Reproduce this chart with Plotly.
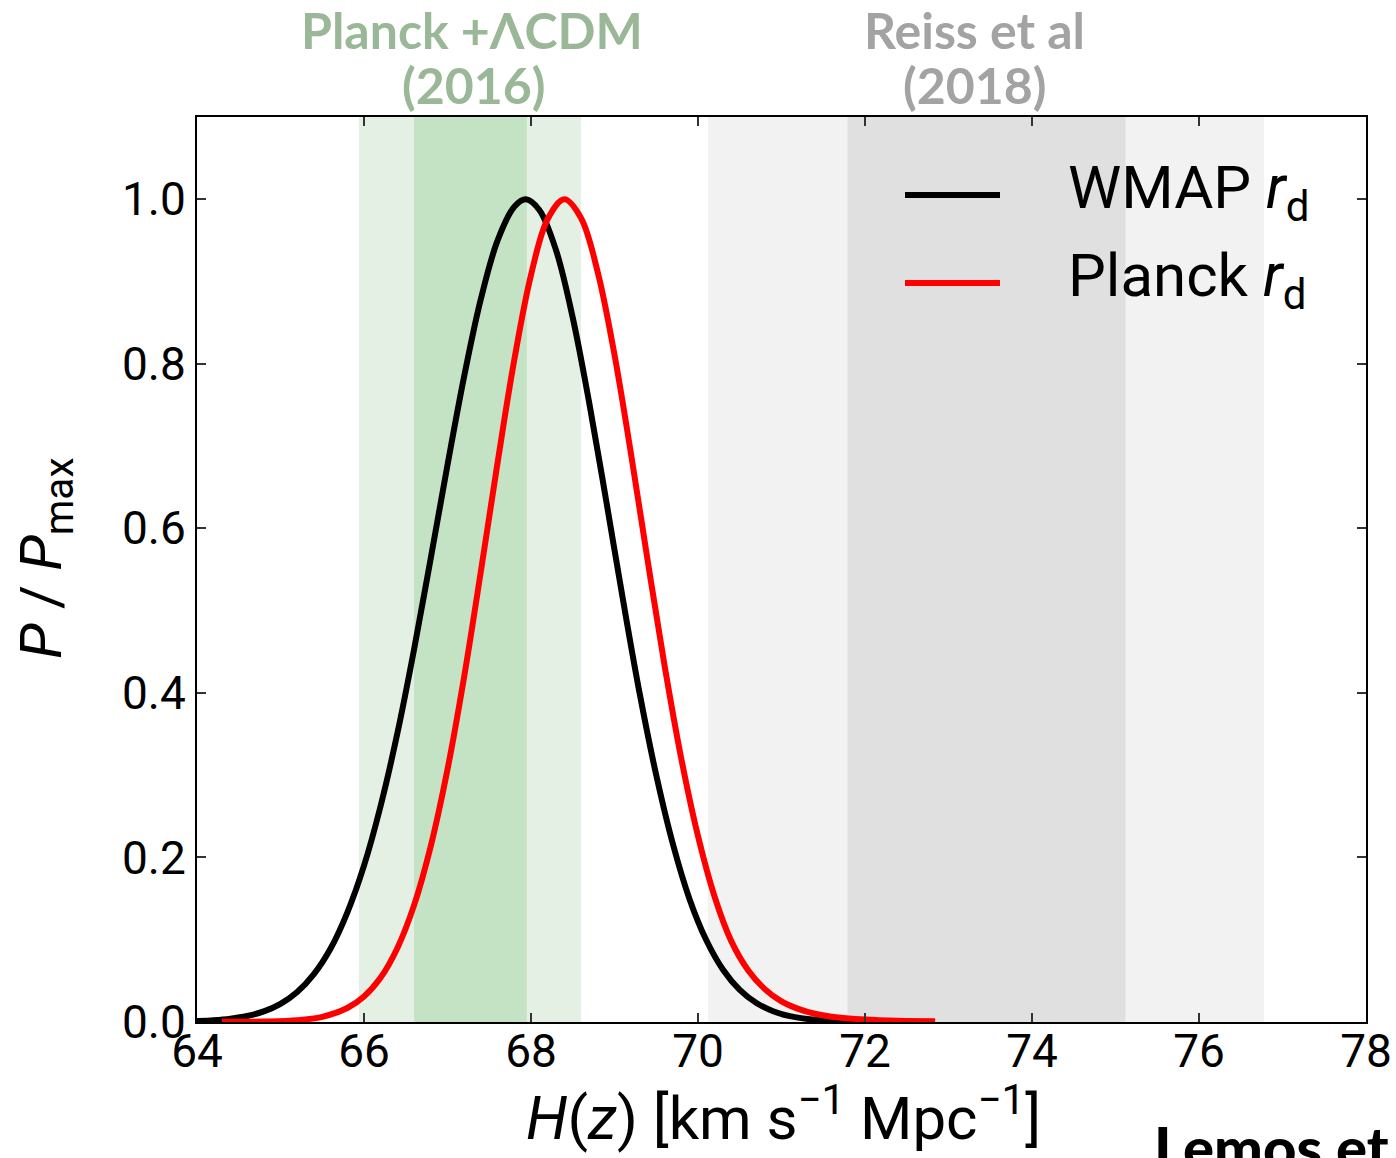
import plotly.graph_objects as go

# ---- data ----
wmap_H = [64.0, 64.2, 64.4, 64.6, 64.8, 65.0, 65.2, 65.4, 65.6, 65.8, 66.0, 66.2, 66.4, 66.6,
          66.8, 67.0, 67.2, 67.4, 67.6, 67.8, 67.94, 68.1, 68.3, 68.5, 68.7, 68.9, 69.1, 69.3,
          69.5, 69.7, 69.9, 70.1, 70.3, 70.5, 70.7, 70.9, 71.1, 71.4, 71.8, 72.4]
wmap_P = [0.0011, 0.0021, 0.0040, 0.0073, 0.0129, 0.0221, 0.0365, 0.0582, 0.0893, 0.133, 0.190,
          0.263, 0.351, 0.453, 0.564, 0.677, 0.785, 0.879, 0.950, 0.991, 1.0, 0.987, 0.938,
          0.856, 0.751, 0.634, 0.514, 0.400, 0.300, 0.216, 0.149, 0.0993, 0.0635, 0.039,
          0.023, 0.0131, 0.0071, 0.0027, 0.0006, 0.0001]

planck_H = [64.3, 64.8, 65.2, 65.5, 65.8, 66.0, 66.2, 66.4, 66.6, 66.8, 67.0, 67.2, 67.4, 67.6,
            67.8, 68.0, 68.2, 68.4, 68.6, 68.8, 69.0, 69.2, 69.4, 69.6, 69.8, 70.0, 70.2, 70.4,
            70.6, 70.8, 71.0, 71.2, 71.4, 71.6, 72.0, 72.4, 72.84]
planck_P = [0.0003, 0.0006, 0.0021, 0.0063, 0.0170, 0.031, 0.054, 0.090, 0.142, 0.214, 0.307,
            0.420, 0.548, 0.680, 0.805, 0.908, 0.976, 1.0, 0.977, 0.911, 0.811, 0.689, 0.559,
            0.433, 0.320, 0.226, 0.152, 0.098, 0.063, 0.040, 0.025, 0.016, 0.010, 0.0065,
            0.003, 0.0015, 0.001]

planck_lcdm_1sig = [66.60, 67.95]
planck_lcdm_2sig = [65.94, 68.60]
riess_1sig = [71.79, 75.12]
riess_2sig = [70.12, 76.78]

x_ticks = [64, 66, 68, 70, 72, 74, 76, 78]
y_ticks = [0.0, 0.2, 0.4, 0.6, 0.8, 1.0]

TICK_FONT = "Liberation Sans Narrow, Roboto, sans-serif"

L, R, T, B = 197, 1366, 117, 1022
W, H = R - L, B - T


def px_x(p):
    return (p - L) / W


def px_y(p):
    return (B - p) / H


fig = go.Figure()

# shaded bands
for (a, b), col in [(planck_lcdm_2sig, "#e5f0e5"), (planck_lcdm_1sig, "#c4e2c4"),
                    (riess_2sig, "#f2f2f2"), (riess_1sig, "#e0e0e0")]:
    fig.add_vrect(x0=a, x1=b, fillcolor=col, line_width=0, layer="below")

fig.add_trace(go.Scatter(x=wmap_H, y=wmap_P, mode="lines", name="WMAP r_d",
                         line=dict(color="black", width=6, shape="spline", smoothing=1.0),
                         showlegend=False))
fig.add_trace(go.Scatter(x=planck_H, y=planck_P, mode="lines", name="Planck r_d",
                         line=dict(color="#ff0000", width=6, shape="spline", smoothing=1.0),
                         showlegend=False))

# manual legend
legend_items = [("WMAP <i>r</i><sub>d</sub>", "black", 195), ("Planck <i>r</i><sub>d</sub>", "#ff0000", 283)]
for label, col, ypx in legend_items:
    fig.add_shape(type="line", xref="paper", yref="paper",
                  x0=px_x(905), x1=px_x(1000), y0=px_y(ypx), y1=px_y(ypx),
                  line=dict(color=col, width=6))
    fig.add_annotation(xref="paper", yref="paper", x=px_x(1066), y=px_y(ypx - 4),
                       text=label, showarrow=False, xanchor="left", yanchor="middle",
                       font=dict(family=TICK_FONT, size=60, color="black"))

# top titles
title_font_g = dict(family="Lato", size=50, color="#9ab897", weight=700)
title_font_k = dict(family="Lato", size=50, color="#a3a3a3", weight=700)
for txt, xp, yp, f in [("Planck +ΛCDM", 472, 30, title_font_g), ("(2016)", 473, 85, title_font_g),
                       ("Reiss et al", 974, 30, title_font_k), ("(2018)", 974, 85, title_font_k)]:
    fig.add_annotation(xref="paper", yref="paper", x=px_x(xp), y=px_y(yp), text=txt,
                       showarrow=False, xanchor="center", yanchor="middle", font=f)

# axis titles
fig.add_annotation(xref="paper", yref="paper", x=px_x(783), y=px_y(1114),
                   text="<i>H</i>(<i>z</i>) [km s<sup>−1</sup> Mpc<sup>−1</sup>]", showarrow=False,
                   xanchor="center", yanchor="middle",
                   font=dict(family=TICK_FONT, size=60, color="black"))
fig.add_annotation(xref="paper", yref="paper", x=px_x(45), y=px_y(558),
                   text="<i>P</i> / <i>P</i><sub>max</sub>", showarrow=False, textangle=-90,
                   xanchor="center", yanchor="middle",
                   font=dict(family=TICK_FONT, size=58, color="black"))

# cropped caption at bottom right
fig.add_annotation(xref="paper", yref="paper", x=px_x(1152), y=px_y(1110),
                   text="Lemos et al. (2018)", showarrow=False, xanchor="left", yanchor="top",
                   font=dict(family="Lato", size=58, color="black", weight=900))

axis_common = dict(showline=True, linewidth=2, linecolor="black", mirror="ticks",
                   ticks="inside", ticklen=9, tickwidth=1.5, tickcolor="#333333",
                   showgrid=False, zeroline=False, automargin=False,
                   tickfont=dict(family=TICK_FONT, size=46, color="black"))

fig.update_xaxes(range=[64, 78], tickvals=x_ticks, ticktext=[str(v) for v in x_ticks],
                 ticklabelstandoff=-12, **axis_common)
fig.update_yaxes(range=[0, 1.1], tickvals=y_ticks, ticktext=[f"{v:.1f}" for v in y_ticks], **axis_common)

fig.update_layout(width=1396, height=1158, margin=dict(l=L, r=1396 - R, t=T, b=1158 - B),
                  paper_bgcolor="white", plot_bgcolor="white")

fig.write_html("out.html")
